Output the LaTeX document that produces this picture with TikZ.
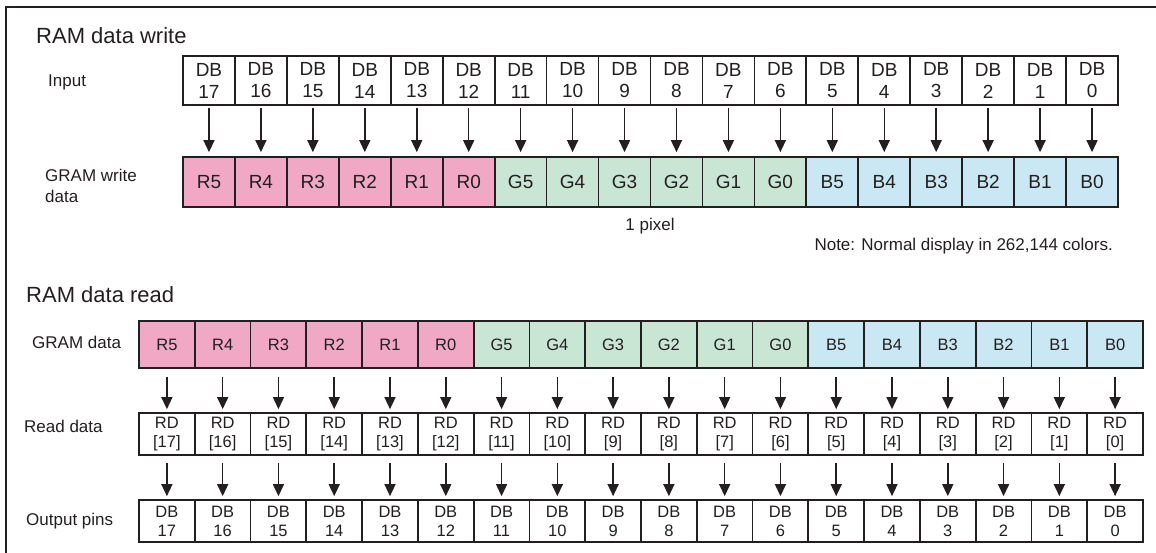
\documentclass[tikz,border=0pt]{standalone}
\usepackage{fontspec}
\setmainfont{Liberation Sans}
\usetikzlibrary{arrows.meta}

\definecolor{cellR}{RGB}{240,168,196}
\definecolor{cellG}{RGB}{201,230,212}
\definecolor{cellB}{RGB}{202,232,243}
\definecolor{ink}{RGB}{35,31,32}

\begin{document}
\begin{tikzpicture}[x=1pt,y=-1pt,
  every node/.style={text=ink},
  bitcell/.style={draw=ink,line width=1.7pt,inner sep=0pt,align=center},
  wcell/.style={bitcell,minimum width=\ww pt,font=\fontsize{19}{22}\selectfont},
  rcell/.style={bitcell,minimum width=\wr pt,font=\fontsize{16.5}{19}\selectfont},
  feed/.style={draw=ink,line width=1.5pt,-{Triangle[width=11pt,length=12pt]}},
  caption/.style={inner sep=0pt,font=\fontsize{17}{20.5}\selectfont,align=left},
  heading/.style={inner sep=0pt,font=\fontsize{22}{26}\selectfont}]
  % Constants
  \pgfmathsetmacro\xw{183}
  \pgfmathsetmacro\ww{(1118-183)/18}
  \pgfmathsetmacro\xr{139}
  \pgfmathsetmacro\wr{(1143-139)/18}
  % Boundary
  \path[use as bounding box] (0,0) rectangle (1156,553);
  \draw[draw=ink,line width=2.2pt] (6,553) -- (6,7) -- (1156,7);
  % Write part
  \node[heading,anchor=base west] (wtitle) at (36,44) {RAM data write};
  \node[caption,anchor=base west] (inlbl) at (48,87) {Input};
  \node[caption,anchor=west] (gwlbl) at (45,186) {GRAM write\\data};
  \foreach \b in {17,...,0}
    \node[wcell,minimum height=49pt] (in\b) at ({\xw+(17.5-\b)*\ww},80.5) {DB\\\b};
  \foreach \c [count=\i from 0] in {R,G,B}
    \foreach \k in {5,...,0} {
      \pgfmathtruncatemacro\b{12-6*\i+\k}
      \node[wcell,fill=cell\c,minimum height=50pt] (gw\b) at ({\xw+(17.5-\b)*\ww},182) {\c\k};
    }
  \foreach \b in {17,...,0}
    \draw[feed,shorten <=2pt,shorten >=4pt] (in\b.south) -- (gw\b.north);
  \node[caption,anchor=base] (pix) at (650,231) {1 pixel};
  \node[caption,anchor=base east] (note) at (1113,251) {Note: Normal display in 262,144 colors.};
  % Read part
  \node[heading,anchor=base west] (rtitle) at (26,302) {RAM data read};
  \node[caption,anchor=base west] (gdlbl) at (32,348) {GRAM data};
  \node[caption,anchor=base west] (rdlbl) at (24,432) {Read data};
  \node[caption,anchor=base west] (oplbl) at (26,525) {Output pins};
  \foreach \c [count=\i from 0] in {R,G,B}
    \foreach \k in {5,...,0} {
      \pgfmathtruncatemacro\b{12-6*\i+\k}
      \node[rcell,fill=cell\c,minimum height=47pt] (gr\b) at ({\xr+(17.5-\b)*\wr},344.5) {\c\k};
    }
  \foreach \b in {17,...,0} {
    \node[rcell,minimum height=42pt] (rd\b) at ({\xr+(17.5-\b)*\wr},434) {RD\\{}[\b]};
    \node[rcell,minimum height=42pt] (op\b) at ({\xr+(17.5-\b)*\wr},521) {DB\\\b};
    \draw[feed,shorten <=8pt,shorten >=3pt] (gr\b.south) -- (rd\b.north);
    \draw[feed,shorten <=7pt,shorten >=3pt] (rd\b.south) -- (op\b.north);
  }
\end{tikzpicture}
\end{document}
